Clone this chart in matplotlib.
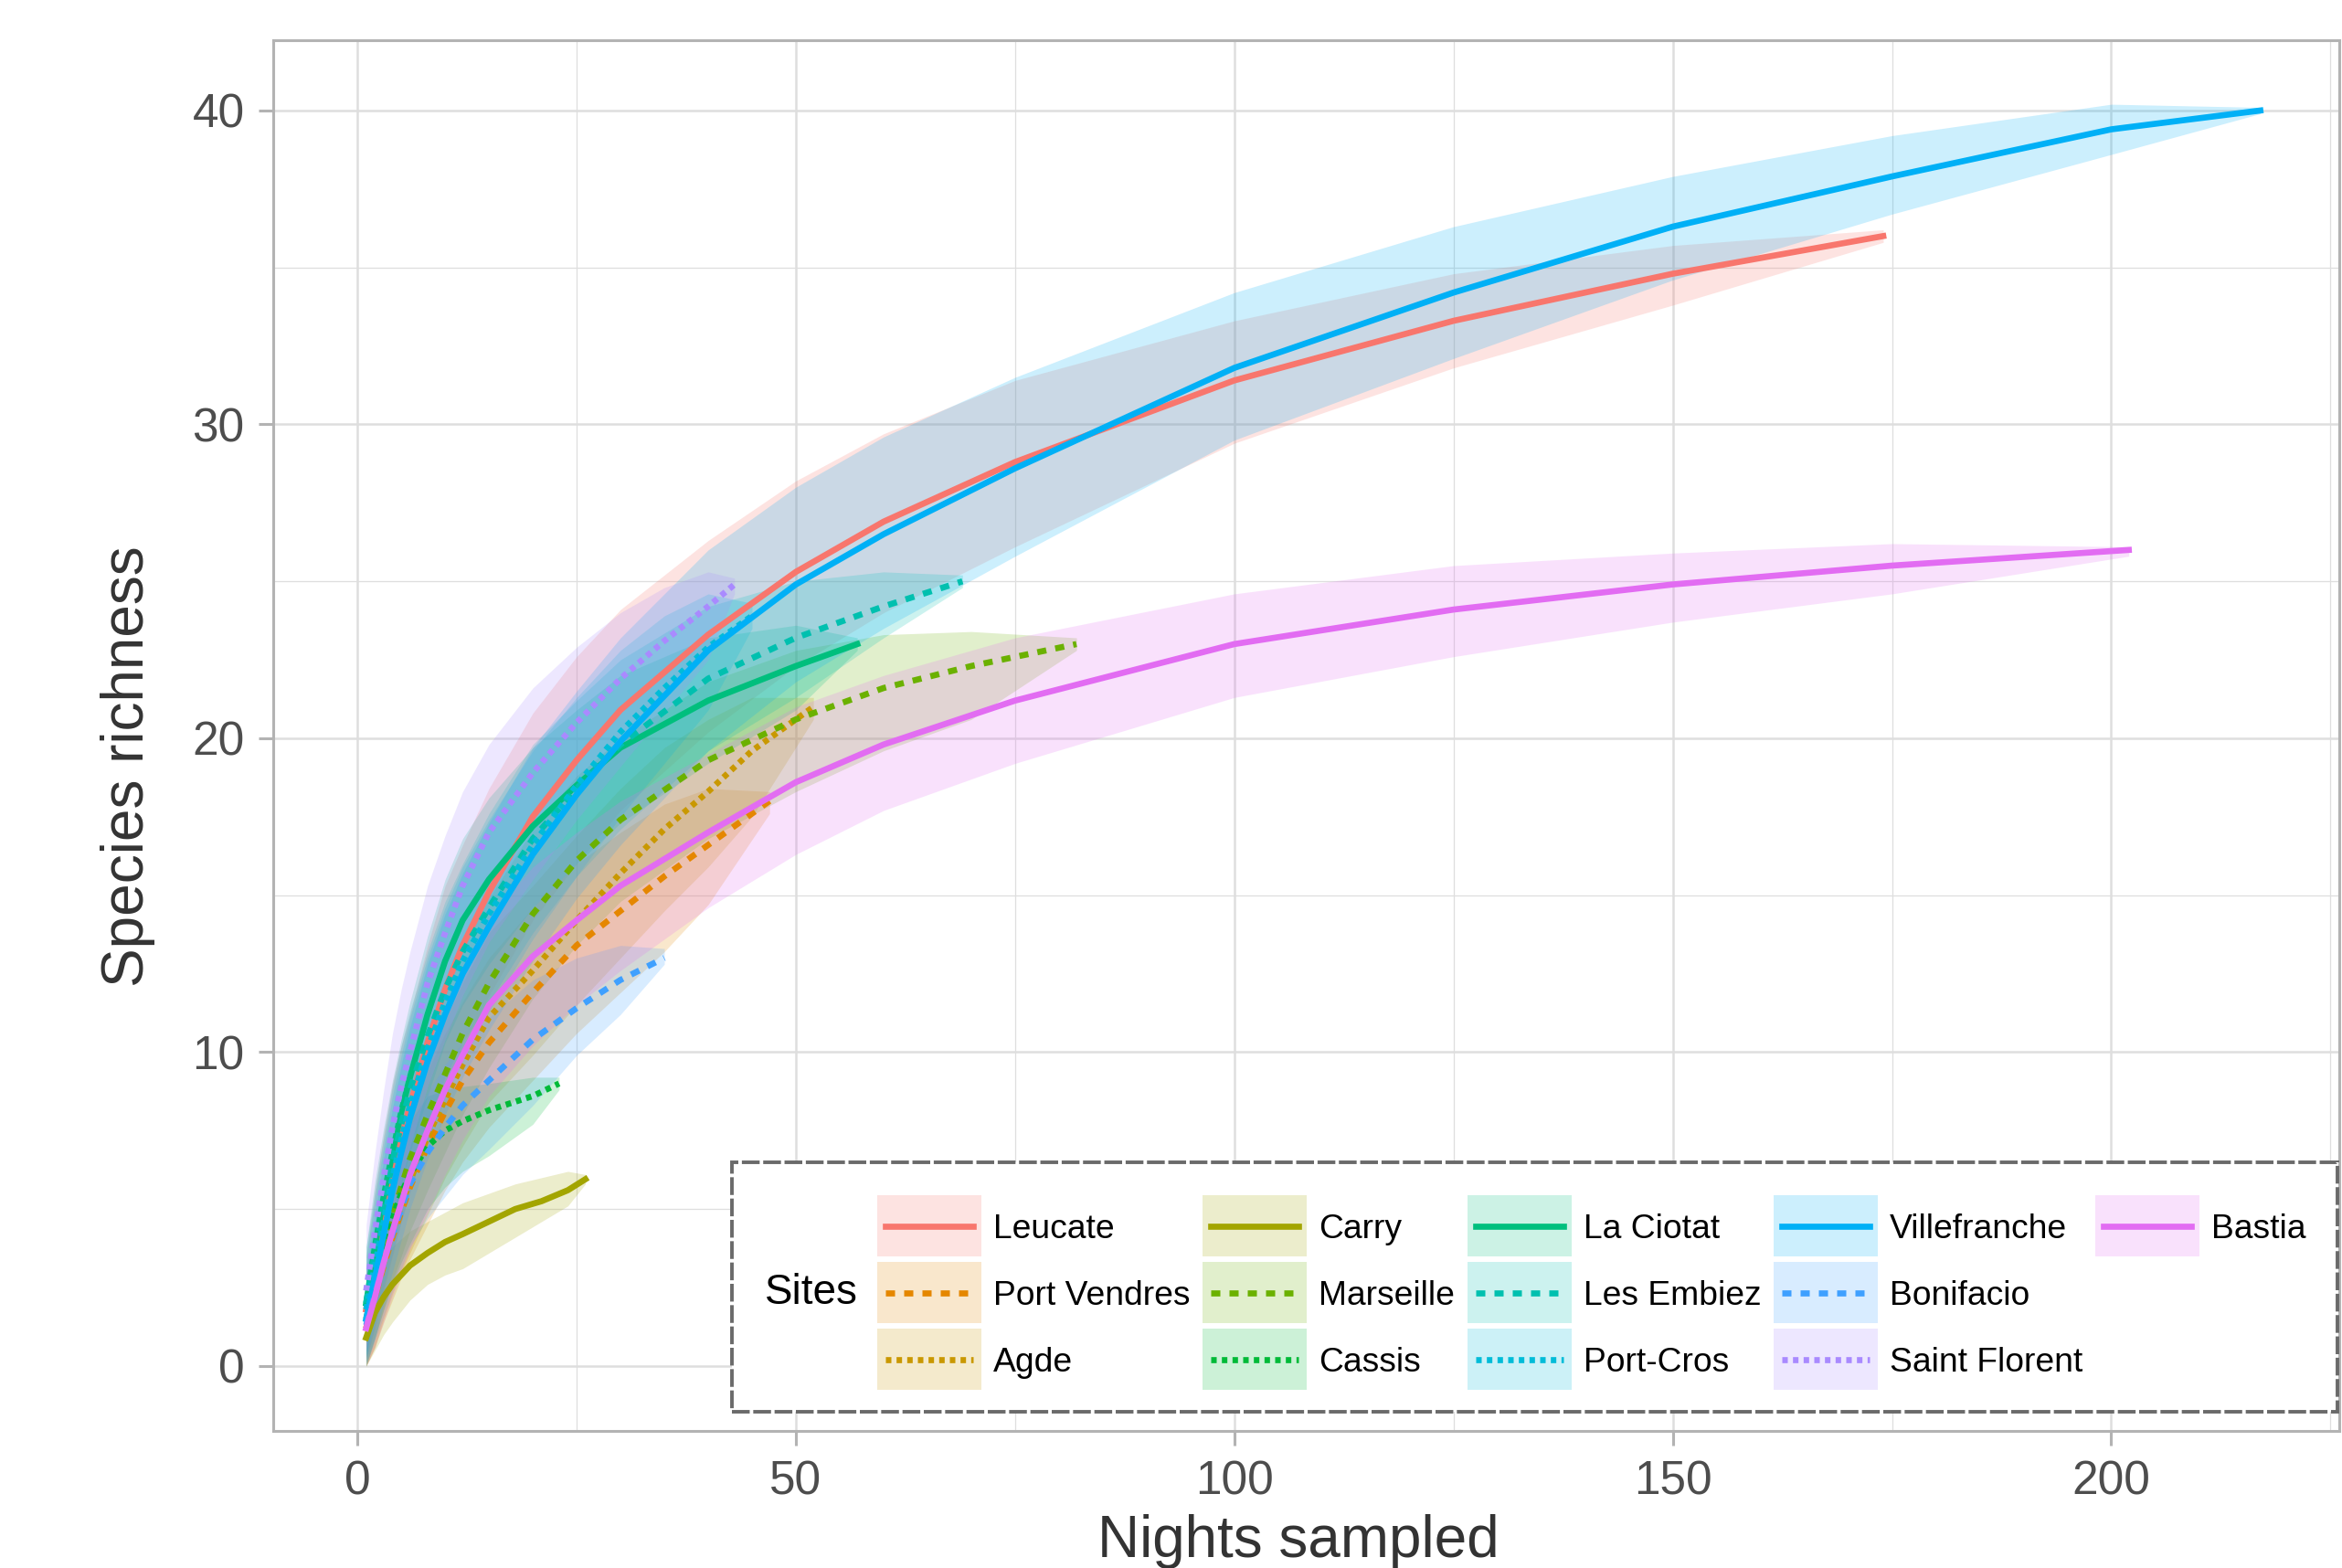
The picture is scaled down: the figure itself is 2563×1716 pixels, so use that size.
import matplotlib.pyplot as plt
from matplotlib.patches import Rectangle
from matplotlib.lines import Line2D

plt.rcParams['font.family'] = ['Liberation Sans', 'DejaVu Sans']

# rarefaction curves: nights, mean richness, lower / upper band
leucate_x = [1, 2, 3, 4, 5, 6, 8, 10, 12, 15, 20, 25, 30, 40, 50, 60, 75, 100, 125, 150, 174]
leucate_y = [1.8, 3.3, 4.8, 6.2, 7.3, 8.3, 10.3, 12.0, 13.4, 15.1, 17.5, 19.3, 20.9, 23.3, 25.3, 26.9, 28.8, 31.4, 33.3, 34.8, 36.0]
leucate_lo = [0.2, 1.2, 2.4, 3.5, 4.6, 5.5, 7.3, 8.8, 10.1, 11.8, 14.2, 16.0, 17.7, 20.2, 22.3, 24.0, 26.1, 29.4, 31.8, 33.8, 35.8]
leucate_hi = [3.5, 5.6, 7.4, 9.0, 10.2, 11.2, 13.4, 15.3, 16.6, 18.4, 20.8, 22.6, 24.1, 26.3, 28.2, 29.7, 31.4, 33.3, 34.8, 35.7, 36.2]

portvendres_x = [1, 2, 3, 4, 5, 6, 8, 10, 12, 15, 20, 25, 30, 35, 40, 47]
portvendres_y = [1.2, 2.2, 3.2, 4.1, 4.9, 5.7, 7.0, 8.1, 9.1, 10.3, 11.9, 13.4, 14.5, 15.6, 16.6, 18.0]
portvendres_lo = [0.0, 0.6, 1.4, 2.1, 2.8, 3.4, 4.5, 5.6, 6.5, 7.6, 9.1, 10.6, 11.9, 13.2, 14.7, 17.6]
portvendres_hi = [2.9, 4.0, 5.1, 6.2, 7.1, 8.0, 9.4, 10.6, 11.6, 13.0, 14.6, 16.0, 17.0, 17.9, 18.4, 18.3]

agde_x = [1, 2, 3, 4, 5, 6, 8, 10, 12, 15, 20, 25, 30, 35, 40, 45, 52]
agde_y = [1.2, 2.2, 3.3, 4.3, 5.1, 5.9, 7.3, 8.5, 9.6, 11.1, 12.6, 14.2, 15.7, 17.1, 18.3, 19.6, 21.0]
agde_lo = [0.0, 0.6, 1.5, 2.3, 3.0, 3.6, 4.8, 6.0, 7.0, 8.4, 9.9, 11.5, 13.0, 14.5, 15.9, 17.5, 20.6]
agde_hi = [2.9, 4.0, 5.3, 6.4, 7.3, 8.2, 9.7, 11.0, 12.2, 13.8, 15.3, 16.9, 18.4, 19.7, 20.6, 21.3, 21.3]

carry_x = [1, 2, 3, 4, 6, 8, 10, 12, 15, 18, 21, 24, 26]
carry_y = [0.9, 1.7, 2.2, 2.6, 3.2, 3.6, 3.95, 4.2, 4.6, 5.0, 5.25, 5.6, 5.95]
carry_lo = [0.0, 0.5, 1.0, 1.4, 2.1, 2.6, 2.9, 3.1, 3.6, 4.1, 4.6, 5.1, 5.8]
carry_hi = [2.0, 2.9, 3.4, 3.8, 4.3, 4.6, 4.9, 5.2, 5.5, 5.8, 6.0, 6.2, 6.1]

marseille_x = [1, 2, 3, 4, 5, 6, 8, 10, 12, 15, 20, 25, 30, 40, 50, 60, 70, 82]
marseille_y = [1.5, 2.6, 3.7, 4.8, 5.7, 6.6, 8.0, 9.3, 10.6, 12.2, 14.4, 16.1, 17.4, 19.3, 20.6, 21.6, 22.3, 23.0]
marseille_lo = [0.0, 0.9, 1.8, 2.7, 3.5, 4.3, 5.6, 6.8, 8.0, 9.5, 11.7, 13.4, 14.8, 16.8, 18.3, 19.6, 20.6, 22.8]
marseille_hi = [3.1, 4.4, 5.7, 7.0, 8.0, 9.0, 10.5, 11.9, 13.3, 14.9, 17.1, 18.8, 20.0, 21.8, 22.8, 23.3, 23.4, 23.2]

cassis_x = [1, 2, 3, 4, 5, 6, 8, 10, 12, 15, 20, 23]
cassis_y = [1.4, 2.5, 3.7, 4.7, 5.5, 6.1, 7.0, 7.5, 7.8, 8.15, 8.6, 9.0]
cassis_lo = [0.0, 0.9, 1.8, 2.6, 3.3, 3.9, 5.0, 5.7, 6.2, 6.7, 7.7, 8.8]
cassis_hi = [2.9, 4.1, 5.3, 6.3, 7.1, 7.8, 8.6, 8.8, 8.9, 9.0, 9.2, 9.2]

laciotat_x = [1, 2, 3, 4, 5, 6, 8, 10, 12, 15, 20, 25, 30, 40, 50, 57]
laciotat_y = [2.0, 3.8, 5.4, 6.8, 8.1, 9.2, 11.2, 12.9, 14.2, 15.5, 17.2, 18.5, 19.7, 21.2, 22.3, 23.0]
laciotat_lo = [0.3, 1.8, 3.3, 4.6, 5.8, 6.8, 8.6, 10.3, 11.5, 12.8, 14.6, 16.0, 17.3, 19.2, 20.9, 22.8]
laciotat_hi = [3.8, 5.9, 7.6, 9.1, 10.4, 11.6, 13.7, 15.5, 16.8, 18.1, 19.7, 20.9, 22.0, 23.2, 23.6, 23.2]

lesembiez_x = [1, 2, 3, 4, 5, 6, 8, 10, 12, 15, 20, 25, 30, 40, 50, 60, 69]
lesembiez_y = [2.0, 3.6, 5.1, 6.5, 7.7, 8.8, 10.5, 12.0, 13.2, 14.6, 16.8, 18.4, 19.8, 21.9, 23.2, 24.2, 25.0]
lesembiez_lo = [0.3, 1.7, 3.0, 4.2, 5.3, 6.3, 7.8, 9.2, 10.3, 11.6, 13.8, 15.6, 17.1, 19.6, 21.3, 23.2, 24.8]
lesembiez_hi = [3.8, 5.6, 7.3, 8.9, 10.2, 11.3, 13.2, 14.8, 16.0, 17.6, 19.8, 21.2, 22.5, 24.2, 25.0, 25.3, 25.2]

portcros_x = [1, 2, 3, 4, 5, 6, 8, 10, 12, 15, 20, 25, 30, 35, 40, 45]
portcros_y = [1.8, 3.2, 4.6, 6.0, 7.2, 8.3, 10.1, 11.6, 12.9, 14.4, 16.6, 18.5, 20.2, 21.6, 22.9, 23.9]
portcros_lo = [0.2, 1.3, 2.5, 3.6, 4.6, 5.6, 7.2, 8.6, 9.8, 11.3, 13.6, 15.6, 17.5, 19.2, 20.9, 23.5]
portcros_hi = [3.5, 5.3, 7.0, 8.6, 9.9, 11.1, 13.0, 14.6, 15.9, 17.4, 19.6, 21.3, 22.8, 23.9, 24.6, 24.3]

villefranche_x = [1, 2, 3, 4, 5, 6, 8, 10, 12, 15, 20, 25, 30, 40, 50, 60, 75, 100, 125, 150, 175, 200, 217]
villefranche_y = [1.5, 2.8, 4.2, 5.6, 6.8, 7.9, 9.7, 11.2, 12.5, 14.0, 16.3, 18.2, 19.9, 22.8, 24.9, 26.5, 28.6, 31.8, 34.2, 36.3, 37.9, 39.4, 40.0]
villefranche_lo = [0.1, 0.9, 2.0, 3.0, 4.0, 5.0, 6.6, 8.0, 9.2, 10.7, 12.9, 14.9, 16.6, 19.6, 21.8, 23.5, 25.8, 29.5, 32.1, 34.6, 36.7, 38.6, 39.9]
villefranche_hi = [3.1, 4.8, 6.6, 8.2, 9.6, 10.8, 12.8, 14.4, 15.7, 17.3, 19.7, 21.5, 23.2, 26.0, 28.0, 29.6, 31.5, 34.2, 36.3, 37.9, 39.2, 40.2, 40.1]

bonifacio_x = [1, 2, 3, 4, 5, 6, 8, 10, 12, 15, 20, 25, 30, 35]
bonifacio_y = [1.3, 2.3, 3.3, 4.2, 5.0, 5.8, 6.8, 7.6, 8.3, 9.1, 10.4, 11.4, 12.3, 13.0]
bonifacio_lo = [0.0, 0.8, 1.6, 2.4, 3.1, 3.8, 4.7, 5.4, 6.1, 6.9, 8.3, 9.9, 11.2, 12.8]
bonifacio_hi = [2.8, 3.9, 5.0, 6.0, 6.9, 7.6, 8.7, 9.6, 10.3, 11.1, 12.3, 13.0, 13.4, 13.3]

saintflorent_x = [1, 2, 3, 4, 5, 6, 8, 10, 12, 15, 20, 25, 30, 35, 40, 43]
saintflorent_y = [2.4, 4.3, 6.0, 7.6, 8.9, 10.0, 12.2, 13.8, 15.3, 17.0, 18.9, 20.5, 21.9, 23.1, 24.2, 24.9]
saintflorent_lo = [0.5, 2.0, 3.4, 4.8, 5.9, 7.0, 8.9, 10.4, 11.8, 13.5, 15.5, 17.4, 19.1, 20.8, 22.5, 24.6]
saintflorent_hi = [4.5, 6.8, 8.8, 10.6, 12.0, 13.2, 15.3, 16.9, 18.3, 19.8, 21.6, 22.9, 24.0, 24.8, 25.3, 25.1]

bastia_x = [1, 2, 3, 4, 5, 6, 8, 10, 12, 15, 20, 25, 30, 40, 50, 60, 75, 100, 125, 150, 175, 202]
bastia_y = [1.2, 2.2, 3.3, 4.3, 5.2, 6.1, 7.5, 8.8, 9.9, 11.5, 13.05, 14.2, 15.3, 17.0, 18.6, 19.8, 21.2, 23.0, 24.1, 24.9, 25.5, 26.0]
bastia_lo = [0.0, 0.6, 1.4, 2.2, 3.0, 3.7, 4.9, 6.1, 7.2, 8.6, 10.2, 11.5, 12.6, 14.6, 16.3, 17.7, 19.2, 21.3, 22.6, 23.7, 24.6, 25.8]
bastia_hi = [2.9, 4.1, 5.3, 6.5, 7.5, 8.5, 10.1, 11.5, 12.7, 14.3, 15.9, 17.0, 18.0, 19.5, 21.0, 22.0, 23.2, 24.6, 25.5, 25.9, 26.2, 26.1]

sites = ['Leucate', 'Port Vendres', 'Agde', 'Carry', 'Marseille', 'Cassis', 'La Ciotat',
         'Les Embiez', 'Port-Cros', 'Villefranche', 'Bonifacio', 'Saint Florent', 'Bastia']
site_colors = ['#F8766D', '#E58700', '#C99800', '#A3A500', '#6BB100', '#00BA38', '#00BF7D',
               '#00C0AF', '#00BCD8', '#00B0F6', '#3FA0FF', '#A98AFF', '#E26CF2']
curves = [
    (leucate_x, leucate_y, leucate_lo, leucate_hi),
    (portvendres_x, portvendres_y, portvendres_lo, portvendres_hi),
    (agde_x, agde_y, agde_lo, agde_hi),
    (carry_x, carry_y, carry_lo, carry_hi),
    (marseille_x, marseille_y, marseille_lo, marseille_hi),
    (cassis_x, cassis_y, cassis_lo, cassis_hi),
    (laciotat_x, laciotat_y, laciotat_lo, laciotat_hi),
    (lesembiez_x, lesembiez_y, lesembiez_lo, lesembiez_hi),
    (portcros_x, portcros_y, portcros_lo, portcros_hi),
    (villefranche_x, villefranche_y, villefranche_lo, villefranche_hi),
    (bonifacio_x, bonifacio_y, bonifacio_lo, bonifacio_hi),
    (saintflorent_x, saintflorent_y, saintflorent_lo, saintflorent_hi),
    (bastia_x, bastia_y, bastia_lo, bastia_hi),
]
# ggplot linetypes cycle: solid, dashed, dotted
LW = 2.4
styles = ['-', (0, (1.5, 1.5)), (0, (0.9, 0.85))]

W, H = 2563, 1716
fig = plt.figure(figsize=(W / 200, H / 200), dpi=200)
ax = fig.add_axes([299 / W, 1 - 1566 / H, (2560 - 299) / W, (1566 - 44) / H])

grid_col = '#DEDEDE'
for v in [25, 75, 125, 175, 225]:
    ax.axvline(v, color=grid_col, lw=0.45, zorder=0)
for v in [5, 15, 25, 35]:
    ax.axhline(v, color=grid_col, lw=0.45, zorder=0)
for v in [0, 50, 100, 150, 200]:
    ax.axvline(v, color=grid_col, lw=0.9, zorder=0)
for v in [0, 10, 20, 30, 40]:
    ax.axhline(v, color=grid_col, lw=0.9, zorder=0)

# ribbons first, then the lines on top
for (x, y, lo, hi), col in zip(curves, site_colors):
    ax.fill_between(x, lo, hi, color=col, alpha=0.2, lw=0, zorder=1)
for i, ((x, y, lo, hi), col) in enumerate(zip(curves, site_colors)):
    ax.plot(x, y, color=col, lw=LW, ls=styles[i % 3], zorder=2)

ax.set_xlim(-9.6, 226)
ax.set_ylim(-2.07, 42.24)
ax.set_xticks([0, 50, 100, 150, 200])
ax.set_yticks([0, 10, 20, 30, 40])
ax.tick_params(colors='#B3B3B3', labelcolor='#4D4D4D', labelsize=18.5,
               length=5.8, width=1.1, pad=5.5)
for s in ax.spines.values():
    s.set_color('#B3B3B3')
    s.set_linewidth(1.1)

ax.set_xlabel('Nights sampled', fontsize=23, color='#333333', va='center')
ax.set_ylabel('Species richness', fontsize=23, color='#333333', va='center')
ax.xaxis.set_label_coords(0.4962, -0.0795)
ax.yaxis.set_label_coords(-0.0703, 0.4777)

# legend, laid out by hand like the ggplot guide
def fx(px):
    return px / W

def fy(py):
    return 1 - py / H

tf = fig.transFigure
fig.add_artist(Rectangle((fx(801), fy(1545)), fx(2558) - fx(801), fy(1272) - fy(1545),
                         transform=tf, facecolor='white', edgecolor='#6A6A6A',
                         lw=1.4, ls=(0, (5, 1)), zorder=5))
fig.text(fx(888), fy(1415), 'Sites', fontsize=16.5, ha='center', va='center',
         color='black', zorder=6)

col_left = [960, 1316, 1606, 1941, 2293]
row_top = [1308, 1381, 1454]
key_w, key_h = 114, 67
for i, (name, col) in enumerate(zip(sites, site_colors)):
    c, r = divmod(i, 3)
    x0, y0 = col_left[c], row_top[r]
    fig.add_artist(Rectangle((fx(x0), fy(y0 + key_h)), fx(key_w), key_h / H,
                             transform=tf, facecolor=col, alpha=0.2, lw=0, zorder=6))
    yc = fy(y0 + key_h / 2)
    fig.add_artist(Line2D([fx(x0 + 9), fx(x0 + key_w - 9)], [yc, yc], transform=tf,
                          color=col, lw=LW, ls=styles[i % 3], zorder=7))
    fig.text(fx(x0 + key_w + 13), yc, name, fontsize=13.4, ha='left', va='center_baseline',
             color='black', zorder=7)

fig.savefig('out.png', dpi=200)
